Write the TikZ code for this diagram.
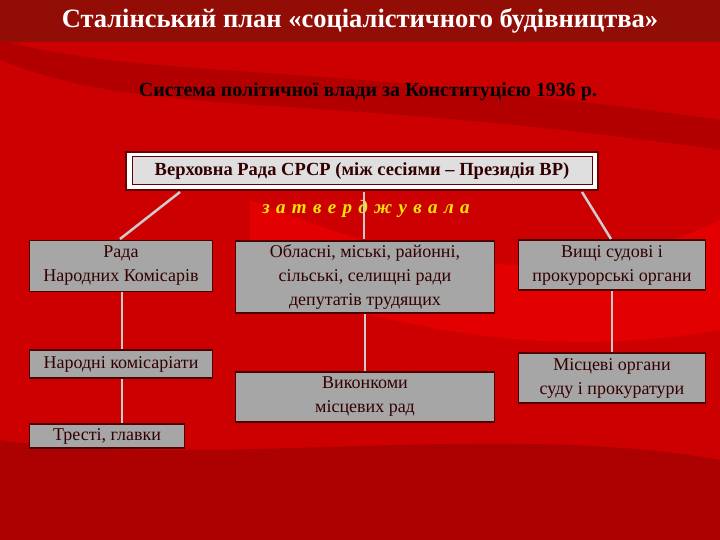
\documentclass[tikz,border=0pt]{standalone}
\usepackage{fontspec}
\setmainfont{Liberation Serif}
\begin{document}
\begin{tikzpicture}[x=1pt,y=-1pt,
  bx/.style={draw=black!70!red,line width=1.5pt,fill=gray!70,text=black!80!red,align=center,font=\fontsize{18}{24}\selectfont,inner sep=2pt},
  ln/.style={draw=gray!40,line width=2.5pt}]
\useasboundingbox (0,0) rectangle (720,540);
\fill[red!80!black] (0,0) rectangle (720,540);
\fill[red!60!black,opacity=0.6] (0,440) .. controls (200,470) and (500,420) .. (720,460) -- (720,540) -- (0,540) -- cycle;
\fill[red!95!black,opacity=0.6] (250,200) .. controls (400,260) and (550,300) .. (720,220) -- (720,330) .. controls (550,360) and (400,330) .. (250,280) -- cycle;
\fill[red!60!black,opacity=0.5] (0,60) .. controls (150,120) and (300,90) .. (720,150) -- (720,120) .. controls (300,60) and (150,80) .. (0,40) -- cycle;
\fill[red!55!black!90!brown] (0,0) rectangle (720,42);
\node[text=white,font=\fontsize{26.5}{30}\selectfont\bfseries] (title) at (360,21) {Сталінський план «соціалістичного будівництва»};
\node[font=\fontsize{20}{24}\selectfont\bfseries] (sub) at (368,92) {Система політичної влади за Конституцією 1936 р.};
\node[draw=black!60!red,line width=2pt,fill=white,minimum width=472pt,minimum height=38pt] (top) at (362,171) {};
\node[draw=black!60!red,line width=1pt,fill=gray!25,minimum width=460pt,minimum height=28pt,font=\fontsize{18.5}{22}\selectfont\bfseries,text=black!80!red] (topin) at (362,171) {Верховна Рада СРСР (між сесіями – Президія ВР)};
\node[text=yellow!90!orange,font=\fontsize{19}{22}\selectfont\itshape\bfseries] (zat) at (366,209) {з\,\,а\,\,т\,\,в\,\,е\,\,р\,\,д\,\,ж\,\,у\,\,в\,\,а\,\,л\,\,а};
\node[bx,minimum width=183pt,minimum height=51pt] (rnk) at (121,266) {Рада\\Народних Комісарів};
\node[bx,minimum width=183pt,minimum height=28pt] (nk) at (121,364) {Народні комісаріати};
\node[bx,minimum width=155pt,minimum height=24pt] (tg) at (107,436) {Тресті, главки};
\node[bx,minimum width=259pt,minimum height=72pt] (rady) at (365,277) {Обласні, міські, районні,\\сільські, селищні ради\\депутатів трудящих};
\node[bx,minimum width=259pt,minimum height=50pt] (vyk) at (365,397) {Виконкоми\\місцевих рад};
\node[bx,minimum width=187pt,minimum height=50pt] (sud) at (612,265) {Вищі судові і\\прокурорські органи};
\node[bx,minimum width=187pt,minimum height=50pt] (msud) at (612,378) {Місцеві органи\\суду і прокуратури};
\draw[ln] (180,192) -- (120,239);
\draw[ln] (364,192) -- (364,239);
\draw[ln] (582,192) -- (611,239);
\draw[ln] (rnk.south -| 122,0) -- (nk.north -| 122,0);
\draw[ln] (nk.south -| 122,0) -- (tg.north -| 122,0);
\draw[ln] (rady.south) -- (vyk.north);
\draw[ln] (sud.south) -- (msud.north);
\end{tikzpicture}
\end{document}
